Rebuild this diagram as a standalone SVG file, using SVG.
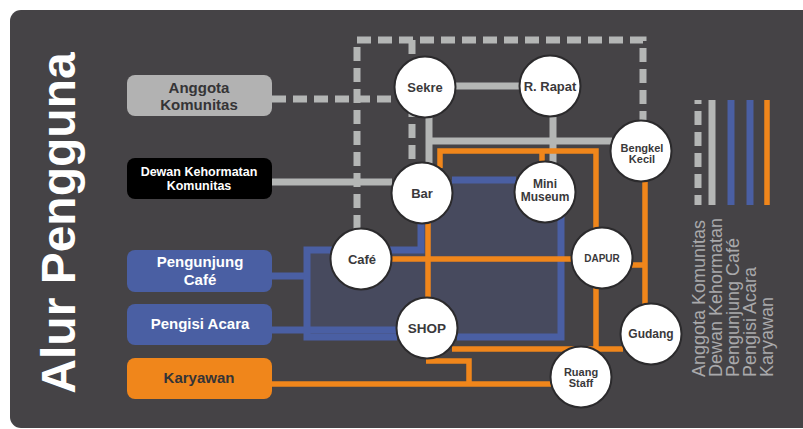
<svg xmlns="http://www.w3.org/2000/svg" width="803" height="429" viewBox="0 0 803 429">
  <defs>
    <style>
      .lane { fill: none; stroke-linejoin: miter; stroke-linecap: butt; }
      .grey-dash { stroke: #b4b6b5; stroke-width: 7; stroke-dasharray: 14 7; }
      .grey { stroke: #b4b6b5; stroke-width: 7; }
      .blue { stroke: #4a5fa3; stroke-width: 7; }
      .orange { stroke: #f0861b; stroke-width: 5.5; }
      .room circle { fill: #ffffff; stroke: #2b2a2c; stroke-width: 2; }
      .room text { font-family: "Liberation Sans", Arial, sans-serif; font-weight: bold; fill: #3a393b; text-anchor: middle; }
      .user text { font-family: "Liberation Sans", Arial, sans-serif; font-weight: bold; text-anchor: middle; font-size: 15px; }
      .user text.small { font-size: 12.5px; }
      .legend-text { font-family: "Liberation Sans", Arial, sans-serif; font-size: 18px; fill: #a9a9ab; }
    </style>
  </defs>

  <!-- panel -->
  <rect x="0" y="0" width="803" height="429" fill="#ffffff"/>
  <rect x="10" y="10" width="810" height="418" rx="11" fill="#454346"/>

  <!-- title -->
  <text transform="translate(75,223) rotate(-90)" text-anchor="middle" font-family="'Liberation Sans', Arial, sans-serif" font-weight="bold" font-size="48" fill="#ffffff">Alur Pengguna</text>

  <!-- shaded public area -->
  <path d="M307,250 H421 V180 H561 V337 H307 Z" fill="#474a5e"/>

  <g id="connectors">
    <!-- Anggota Komunitas (dashed grey) -->
    <path class="lane grey-dash" d="M272,99 H396"/>
    <path class="lane grey-dash" d="M357,229 V40 H643 V121"/>
    <path class="lane grey-dash" d="M412,40 V165"/>
    <!-- Dewan Kehormatan (solid grey) -->
    <path class="lane grey" d="M272,182 H392"/>
    <path class="lane grey" d="M454,86 H520"/>
    <path class="lane grey" d="M429,117 V164"/>
    <path class="lane grey" d="M429,141 H612"/>
    <path class="lane grey" d="M553,116 V163"/>
    <!-- Pengunjung Cafe / Pengisi Acara (blue) -->
    <path class="lane blue" d="M272,276 H307"/>
    <path class="lane blue" d="M272,330 H397"/>
    <path class="lane blue" d="M332,250 H307 V337 H397"/>
    <path class="lane blue" d="M457,337 H561 V215"/>
    <path class="lane blue" d="M452,180 H516"/>
    <path class="lane blue" d="M421,222 V250 H390"/>
    <!-- Karyawan (orange) -->
    <path class="lane orange" d="M440,168 V151 H596 V228"/>
    <path class="lane orange" d="M542,151 V163"/>
    <path class="lane orange" d="M645,181 V304"/>
    <path class="lane orange" d="M632,265 H645"/>
    <path class="lane orange" d="M428,223 V298"/>
    <path class="lane orange" d="M391,259 H572"/>
    <path class="lane orange" d="M596,288 V349"/>
    <path class="lane orange" d="M452,349 H623"/>
    <path class="lane orange" d="M426,361 H469 V384"/>
    <path class="lane orange" d="M272,384 H551"/>
  </g>

  <!-- user groups -->
  <g id="anggota-komunitas" class="user">
    <rect x="127" y="75" width="145" height="41" rx="8" fill="#b2b2b2"/>
    <text x="199" y="93" fill="#353436">Anggota</text>
    <text x="199" y="110" fill="#353436">Komunitas</text>
  </g>
  <g id="dewan-kehormatan" class="user">
    <rect x="127" y="158" width="145" height="41" rx="8" fill="#000000"/>
    <text class="small" x="199" y="176" fill="#ffffff">Dewan Kehormatan</text>
    <text class="small" x="199" y="190" fill="#ffffff">Komunitas</text>
  </g>
  <g id="pengunjung-cafe" class="user">
    <rect x="127" y="250" width="145" height="42" rx="8" fill="#4a5fa3"/>
    <text x="200" y="267" fill="#ffffff">Pengunjung</text>
    <text x="200" y="285" fill="#ffffff">Café</text>
  </g>
  <g id="pengisi-acara" class="user">
    <rect x="127" y="304" width="145" height="41" rx="8" fill="#4a5fa3"/>
    <text x="200" y="329" fill="#ffffff">Pengisi Acara</text>
  </g>
  <g id="karyawan" class="user">
    <rect x="127" y="358" width="145" height="41" rx="8" fill="#f0861b"/>
    <text x="199" y="383" fill="#353436">Karyawan</text>
  </g>

  <!-- rooms -->
  <g id="sekre" class="room">
    <circle cx="425" cy="87" r="30.5"/>
    <text x="425" y="92" font-size="13">Sekre</text>
  </g>
  <g id="r-rapat" class="room">
    <circle cx="550" cy="86" r="30.5"/>
    <text x="550" y="91" font-size="13">R. Rapat</text>
  </g>
  <g id="bengkel-kecil" class="room">
    <circle cx="641" cy="151" r="30.5"/>
    <text x="642" y="152" font-size="11">Bengkel</text>
    <text x="642" y="163" font-size="11">Kecil</text>
  </g>
  <g id="bar" class="room">
    <circle cx="422" cy="193" r="30.5"/>
    <text x="422" y="198" font-size="13">Bar</text>
  </g>
  <g id="mini-museum" class="room">
    <circle cx="545" cy="192" r="30.5"/>
    <text x="545" y="188" font-size="12">Mini</text>
    <text x="545" y="201" font-size="12">Museum</text>
  </g>
  <g id="cafe" class="room">
    <circle cx="361" cy="259" r="30.5"/>
    <text x="362" y="264" font-size="13">Café</text>
  </g>
  <g id="dapur" class="room">
    <circle cx="602" cy="258" r="30.5"/>
    <text x="602" y="262" font-size="10">DAPUR</text>
  </g>
  <g id="shop" class="room">
    <circle cx="427" cy="328" r="30.5"/>
    <text x="427" y="333" font-size="13.5">SHOP</text>
  </g>
  <g id="gudang" class="room">
    <circle cx="651" cy="334" r="30.5"/>
    <text x="651" y="338" font-size="12">Gudang</text>
  </g>
  <g id="ruang-staff" class="room">
    <circle cx="581" cy="377" r="30.5"/>
    <text x="581" y="376" font-size="11">Ruang</text>
    <text x="581" y="387" font-size="11">Staff</text>
  </g>

  <!-- legend -->
  <g id="legend">
    <path class="lane grey-dash" d="M698,100 V205" stroke-width="8" stroke-dasharray="17 8" stroke-dashoffset="10"/>
    <path class="lane grey" d="M712,100 V205" stroke-width="8"/>
    <path class="lane blue" d="M731,100 V205" stroke-width="8"/>
    <path class="lane blue" d="M750,100 V205" stroke-width="8"/>
    <path class="lane orange" d="M767,100 V205" stroke-width="8"/>
    <text class="legend-text" transform="translate(705,377) rotate(-90)">Anggota Komunitas</text>
    <text class="legend-text" transform="translate(722,377) rotate(-90)">Dewan Kehormatan</text>
    <text class="legend-text" transform="translate(739,377) rotate(-90)">Pengunjung Café</text>
    <text class="legend-text" transform="translate(756,377) rotate(-90)">Pengisi Acara</text>
    <text class="legend-text" transform="translate(773,377) rotate(-90)">Karyawan</text>
  </g>
</svg>
